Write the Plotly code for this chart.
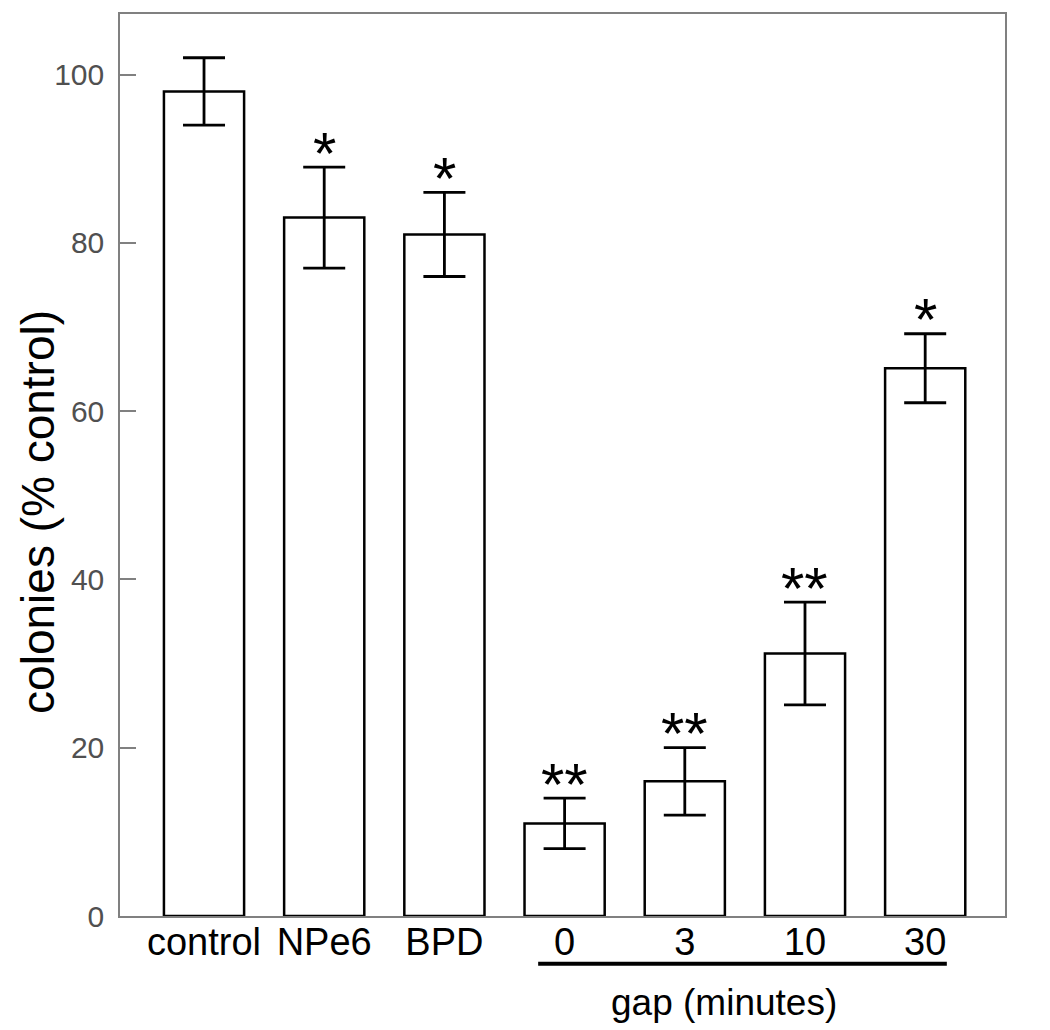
import plotly.graph_objects as go

categories = ["control", "NPe6", "BPD", "0", "3", "10", "30"]
values = [98, 83, 81, 11, 16, 31.2, 65.1]
errors = [4, 6, 5, 3, 4, 6.1, 4.1]
stars = ["", "*", "*", "**", "**", "**", "*"]
group_label = "gap (minutes)"
y_title = "colonies (% control)"
y_ticks = [0, 20, 40, 60, 80, 100]

FONT = "Liberation Sans, Arial, sans-serif"

fig = go.Figure()
fig.add_trace(go.Bar(
    x=list(range(len(categories))), y=values, width=0.667,
    marker=dict(color="white", line=dict(color="black", width=2.5)),
    error_y=dict(type="data", array=errors, symmetric=True,
                 color="black", thickness=2.8, width=21),
    showlegend=False,
))

for i, (v, e, s) in enumerate(zip(values, errors, stars)):
    if s:
        fig.add_annotation(x=i, y=v + e, text=s, showarrow=False,
                           yanchor="middle", yshift=14,
                           font=dict(family=FONT, size=60, color="black"))

# group underline and label
fig.add_shape(type="line", xref="x", yref="paper",
              x0=2.78, x1=6.18, y0=-0.053, y1=-0.053,
              line=dict(color="black", width=4))
fig.add_annotation(x=4.33, xref="x", y=-0.096, yref="paper", text=group_label,
                   showarrow=False, yanchor="middle", xanchor="center",
                   font=dict(family=FONT, size=37, color="black"))

# y title
fig.add_annotation(x=(38 - 120) / 885, xref="paper", y=(916 - 511) / 904, yref="paper",
                   text=y_title, textangle=-90, showarrow=False, borderpad=0,
                   xanchor="center", yanchor="middle",
                   font=dict(family=FONT, size=46, color="black"))

fig.update_layout(
    width=1042, height=1022,
    margin=dict(l=112, r=45, t=4, b=114),
    paper_bgcolor="white", plot_bgcolor="white",
    font=dict(family=FONT),
    xaxis=dict(range=[-0.699, 6.664],
               tickvals=list(range(len(categories))), ticktext=categories,
               showline=True, mirror=True, linecolor="#808080", linewidth=1.5,
               showgrid=False, ticks="", zeroline=False,
               tickfont=dict(size=38, color="black", family=FONT),
               ticklabelstandoff=-8),
    yaxis=dict(range=[0, 107.2], tickvals=y_ticks,
               showline=True, mirror=True, linecolor="#808080", linewidth=1.5,
               showgrid=False, zeroline=False,
               ticks="inside", ticklen=16, tickcolor="#808080", tickwidth=1.5,
               tickfont=dict(size=30, color="#505050", family=FONT),
               ticklabelstandoff=8),
)

fig.write_html("out.html")
